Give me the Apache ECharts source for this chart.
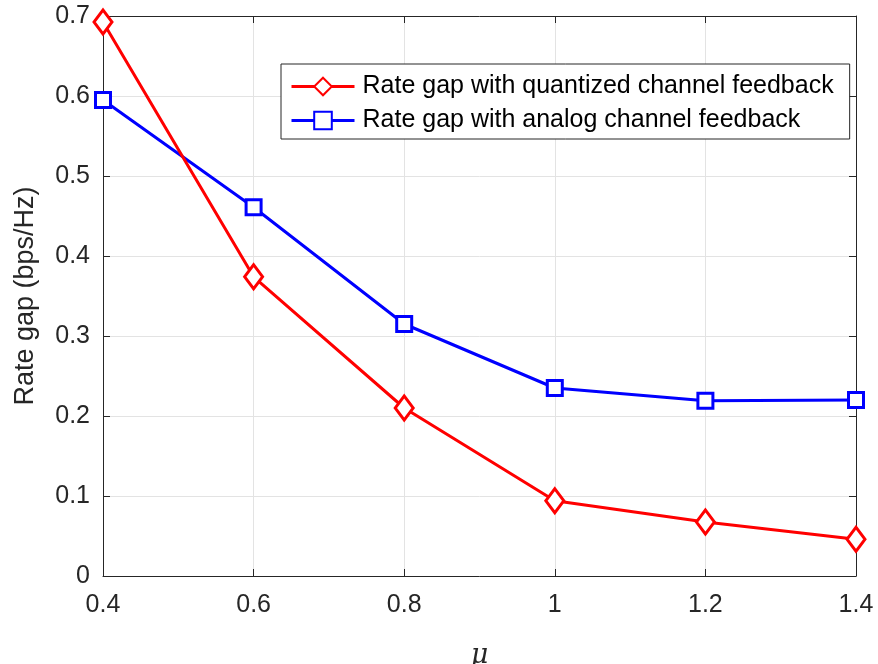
<!DOCTYPE html>
<html>
<head>
<meta charset="utf-8">
<script src="https://cdn.jsdelivr.net/npm/echarts@6/dist/echarts.min.js"></script>
<style>html,body{margin:0;padding:0;background:#fff}#c{width:878px;height:664px}</style>
</head>
<body>
<div id="c"></div>
<script>
var categories = ['0.4', '0.6', '0.8', '1', '1.2', '1.4'];
var quantized = [0.6925, 0.374, 0.210, 0.094, 0.0675, 0.046];
var analog = [0.595, 0.461, 0.315, 0.235, 0.219, 0.220];
var seriesNames = ['Rate gap with quantized channel feedback', 'Rate gap with analog channel feedback'];

var chart = echarts.init(document.getElementById('c'));
var txt = '#262626';
var fontFam = '"Liberation Sans", Arial, Helvetica, sans-serif';
function axisCommon(extra) {
  return Object.assign({
    axisLine: {show: true, onZero: false, lineStyle: {color: txt, width: 1}},
    axisTick: {show: true, inside: true, length: 7, lineStyle: {color: txt}},
    splitLine: {show: false},
    axisLabel: {show: false}
  }, extra);
}
chart.setOption({
  animation: false,
  backgroundColor: '#fff',
  grid: {left: 103, right: 22, top: 16, bottom: 88, containLabel: false, outerBoundsMode: 'none'},
  legend: {
    orient: 'vertical',
    left: 281, top: 64,
    padding: [10, 16, 6, 9],
    itemGap: 9,
    itemWidth: 63, itemHeight: 22,
    borderColor: txt, borderWidth: 1, backgroundColor: '#fff',
    lineStyle: {width: 3},
    textStyle: {fontSize: 25, color: '#000', fontFamily: fontFam, padding: [0, 0, 0, 3]},
    data: seriesNames
  },
  xAxis: [
    {
      type: 'category', data: categories, boundaryGap: false,
      axisLine: {show: true, onZero: false, lineStyle: {color: txt}},
      axisTick: {show: true, inside: true, length: 7, alignWithLabel: true, lineStyle: {color: txt}},
      splitLine: {show: true, lineStyle: {color: '#e3e3e3', width: 1}},
      axisLabel: {fontSize: 25, color: txt, fontFamily: fontFam, margin: 17},
      name: 'μ', nameLocation: 'middle', nameGap: 66,
      nameTextStyle: {fontSize: 27, fontStyle: 'italic', color: txt, fontFamily: '"DejaVu Serif", "Liberation Serif", serif'}
    },
    axisCommon({type: 'category', data: categories, boundaryGap: false, position: 'top'})
  ],
  yAxis: [
    {
      type: 'value', min: 0, max: 0.7, interval: 0.1,
      axisLine: {show: true, onZero: false, lineStyle: {color: txt}},
      axisTick: {show: true, inside: true, length: 7, lineStyle: {color: txt}},
      splitLine: {show: true, lineStyle: {color: '#e3e3e3', width: 1}},
      axisLabel: {fontSize: 25, color: txt, fontFamily: fontFam, margin: 13,
        formatter: function (v) { return String(parseFloat(v.toFixed(1))); }},
      name: 'Rate gap (bps/Hz)', nameLocation: 'middle', nameGap: 64,
      nameTextStyle: {fontSize: 27, color: txt, fontFamily: fontFam}
    },
    axisCommon({type: 'value', min: 0, max: 0.7, interval: 0.1, position: 'right'})
  ],
  series: [
    {
      name: seriesNames[0], type: 'line', data: quantized,
      symbol: 'diamond', symbolSize: [18, 24],
      lineStyle: {color: '#ff0000', width: 3},
      itemStyle: {color: '#fff', borderColor: '#ff0000', borderWidth: 3},
      z: 3
    },
    {
      name: seriesNames[1], type: 'line', data: analog,
      symbol: 'rect', symbolSize: 15,
      lineStyle: {color: '#0000ff', width: 3},
      itemStyle: {color: '#fff', borderColor: '#0000ff', borderWidth: 3},
      z: 2
    }
  ]
});
</script>
</body>
</html>
